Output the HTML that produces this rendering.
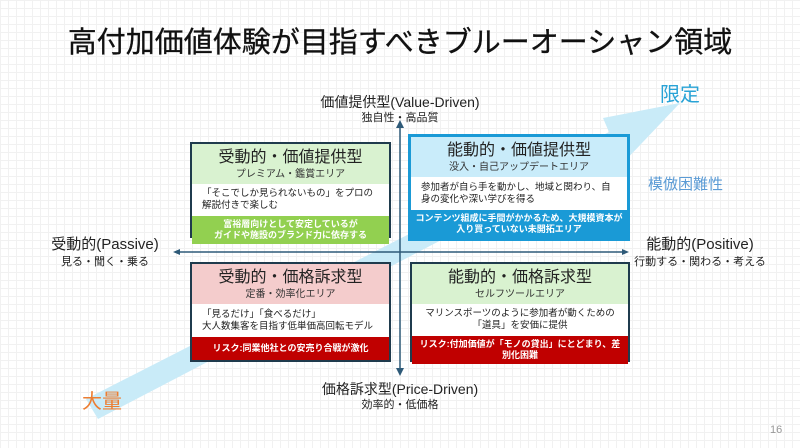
<!DOCTYPE html>
<html><head><meta charset="utf-8"><style>
body{margin:0;width:800px;height:448px;overflow:hidden;background:#fff;font-family:"Liberation Sans","Noto Sans CJK JP",sans-serif;}
.wrap{position:relative;width:800px;height:448px;background-image:linear-gradient(#f1f1f1 1px,transparent 1px),linear-gradient(90deg,#f1f1f1 1px,transparent 1px);background-size:8px 8px;}
.t{position:absolute;white-space:nowrap;text-align:center;}
.box{position:absolute;border:2px solid #1f3b4d;background:#fff;box-sizing:border-box;display:flex;flex-direction:column;}
.hd{text-align:center;color:#222;}
.hd .a{font-size:16px;line-height:20px;padding-top:4px}
.hd .b{font-size:10px;line-height:13px;padding-bottom:3px;color:#333}
.bd{font-size:9.5px;line-height:12px;color:#222;padding:4px 10px;flex:1;display:flex;flex-direction:column;justify-content:center}
.bn{font-size:9px;line-height:11px;color:#fff;text-align:center;padding:3px 4px;font-weight:bold}
</style></head><body><div class="wrap">
<svg width="800" height="448" style="position:absolute;left:0;top:0">
<polygon points="86,399 98,419 614,150 622,164 680,103 603,118 609,132" fill="#c9ebf8"/>
<line x1="400" y1="126" x2="400" y2="370" stroke="#2e5a78" stroke-width="1.5"/>
<polygon points="396,128 404,128 400,120" fill="#2e5a78"/>
<polygon points="396,368 404,368 400,376" fill="#2e5a78"/>
<line x1="178" y1="252" x2="624" y2="252" stroke="#2e5a78" stroke-width="1.5"/>
<polygon points="180,249 180,255 173,252" fill="#2e5a78"/>
<polygon points="622,249 622,255 629,252" fill="#2e5a78"/>
</svg>
<div class="t" style="left:0;width:800px;top:24px;font-size:29px;line-height:38px;color:#111;-webkit-text-stroke:0.3px #111">高付加価値体験が目指すべきブルーオーシャン領域</div>
<div class="t" style="left:300px;width:200px;top:93px;font-size:14px;line-height:18px;color:#222">価値提供型(Value-Driven)</div>
<div class="t" style="left:300px;width:200px;top:111px;font-size:11px;line-height:14px;color:#222">独自性・高品質</div>
<div class="t" style="left:300px;width:200px;top:380px;font-size:14px;line-height:18px;color:#222">価格訴求型(Price-Driven)</div>
<div class="t" style="left:300px;width:200px;top:398px;font-size:11px;line-height:14px;color:#222">効率的・低価格</div>
<div class="t" style="left:35px;width:140px;top:236px;font-size:15px;line-height:18px;color:#222">受動的(Passive)</div>
<div class="t" style="left:35px;width:140px;top:255px;font-size:11px;line-height:14px;color:#222">見る・聞く・乗る</div>
<div class="t" style="left:630px;width:140px;top:236px;font-size:15px;line-height:18px;color:#222">能動的(Positive)</div>
<div class="t" style="left:630px;width:140px;top:255px;font-size:11px;line-height:14px;color:#222">行動する・関わる・考える</div>
<div class="t" style="left:660px;top:83px;font-size:20px;line-height:24px;color:#29a3d6">限定</div>
<div class="t" style="left:648px;top:176px;font-size:15px;line-height:18px;color:#5b9bd5">模倣困難性</div>
<div class="t" style="left:82px;top:390px;font-size:20px;line-height:24px;color:#ed7d31">大量</div>
<div class="t" style="left:770px;top:424px;font-size:11px;color:#999">16</div>

<div class="box" style="left:190px;top:142px;width:201px;height:96px">
 <div class="hd" style="background:#d9f2d0"><div class="a">受動的・価値提供型</div><div class="b">プレミアム・鑑賞エリア</div></div>
 <div class="bd">「そこでしか見られないもの」をプロの解説付きで楽しむ</div>
 <div class="bn" style="background:#92d050">富裕層向けとして安定しているが<br>ガイドや施設のブランド力に依存する</div>
</div>
<div class="box" style="left:408px;top:134px;width:222px;height:107px;border:3px solid #1a9ad6">
 <div class="hd" style="background:#c9ecfa"><div class="a">能動的・価値提供型</div><div class="b">没入・自己アップデートエリア</div></div>
 <div class="bd">参加者が自ら手を動かし、地域と関わり、自身の変化や深い学びを得る</div>
 <div class="bn" style="background:#1a9ad6">コンテンツ組成に手間がかかるため、大規模資本が<br>入り買っていない未開拓エリア</div>
</div>
<div class="box" style="left:190px;top:262px;width:201px;height:100px">
 <div class="hd" style="background:#f4cccc"><div class="a">受動的・価格訴求型</div><div class="b">定番・効率化エリア</div></div>
 <div class="bd">「見るだけ」「食べるだけ」<br>大人数集客を目指す低単価高回転モデル</div>
 <div class="bn" style="background:#c00000;padding:6px 4px">リスク:同業他社との安売り合戦が激化</div>
</div>
<div class="box" style="left:410px;top:262px;width:220px;height:100px">
 <div class="hd" style="background:#d9f2d0"><div class="a">能動的・価格訴求型</div><div class="b">セルフツールエリア</div></div>
 <div class="bd" style="text-align:center">マリンスポーツのように参加者が動くための「道具」を安価に提供</div>
 <div class="bn" style="background:#c00000">リスク:付加価値が「モノの貸出」にとどまり、差<br>別化困難</div>
</div>
</div></body></html>
